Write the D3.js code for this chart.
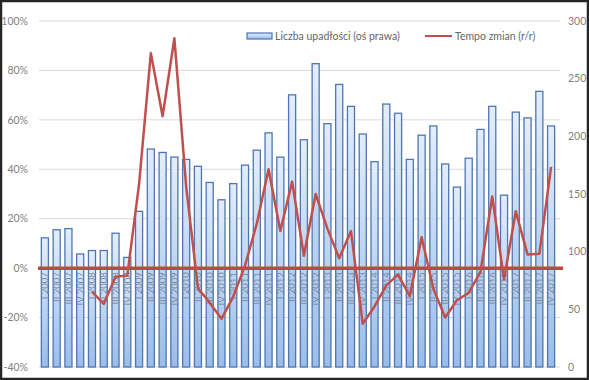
<!DOCTYPE html>
<html>
<head>
<meta charset="utf-8">
<script src="https://cdn.jsdelivr.net/npm/d3@7"></script>
<style>
  body { margin: 0; background: #fff; }
  text { font-family: Lato, "Open Sans", sans-serif; }
</style>
</head>
<body>
<div id="chart"></div>
<script>
// Quarters and years used for the category labels
const quarters = ['I', 'II', 'III', 'IV'];
const years = [2007, 2008, 2009, 2010, 2011, 2012, 2013, 2014, 2015, 2016, 2017];
const categories = years.flatMap(y => quarters.map(q => `${q} ${y}`));

// Liczba upadłości (right axis)
const bankruptcies = [
    112, 119, 120, 98,
    101, 101, 116, 95,
    135, 189, 186, 182,
    180, 174, 160, 145,
    159, 175, 188, 203,
    182, 236, 197, 263,
    211, 245, 226, 202,
    178, 228, 220, 180,
    201, 209, 176, 156,
    181, 206, 226, 149,
    221, 216, 239, 209
];

// Tempo zmian r/r in % (left axis), no value for 2007
const growth = [
    null, null, null, null,
    -9.5, -14.5, -3.5, -3,
    34, 87, 61.5, 93,
    33, -8, -14, -20.5,
    -11.5, 1, 18, 40,
    15, 35, 5, 30,
    16, 4, 15, -22.5,
    -15.5, -7, -2.6, -11.3,
    12.5, -8.3, -20, -13,
    -10, -1.5, 29, -4.6,
    23, 5.5, 5.8, 41
];

const leftTicks = [-40, -20, 0, 20, 40, 60, 80, 100];
const rightTicks = [0, 50, 100, 150, 200, 250, 300];

const width = 589, height = 380;
const plot = { left: 39, right: 557, top: 21, bottom: 367 };

const svg = d3.select('#chart').append('svg')
    .attr('width', width)
    .attr('height', height);

const defs = svg.append('defs');
const grad = defs.append('linearGradient')
    .attr('id', 'barGrad')
    .attr('x1', 0).attr('y1', 0).attr('x2', 0).attr('y2', 1);
grad.append('stop').attr('offset', '0%').attr('stop-color', '#e3eefb');
grad.append('stop').attr('offset', '100%').attr('stop-color', '#99bdea');

// frame
svg.append('rect')
    .attr('x', 1).attr('y', 1)
    .attr('width', width - 2).attr('height', height - 2)
    .attr('fill', '#fff')
    .attr('stroke', '#262626')
    .attr('stroke-width', 2.5);

const x = d3.scaleBand()
    .domain(categories)
    .range([plot.left, plot.right])
    .paddingInner(0.4)
    .paddingOuter(0.2);

const yLeft = d3.scaleLinear().domain([-40, 100]).range([plot.bottom, plot.top]);
const yRight = d3.scaleLinear().domain([0, 300]).range([plot.bottom, plot.top]);

// gridlines (left axis)
svg.append('g')
    .selectAll('line')
    .data(leftTicks)
    .enter()
    .append('line')
    .attr('x1', plot.left)
    .attr('x2', 560)
    .attr('y1', d => yLeft(d))
    .attr('y2', d => yLeft(d))
    .attr('stroke', '#d9d9d9')
    .attr('stroke-width', 1);

// left axis labels
svg.append('g')
    .selectAll('text')
    .data(leftTicks)
    .enter()
    .append('text')
    .attr('x', 28)
    .attr('y', d => yLeft(d))
    .attr('dy', '0.35em')
    .attr('text-anchor', 'end')
    .attr('font-size', 10.5)
    .attr('fill', '#7f7f7f')
    .text(d => `${d}%`);

// right axis labels
svg.append('g')
    .selectAll('text')
    .data(rightTicks)
    .enter()
    .append('text')
    .attr('x', 568)
    .attr('y', d => yRight(d))
    .attr('dy', '0.35em')
    .attr('text-anchor', 'start')
    .attr('font-size', 10.5)
    .attr('fill', '#7f7f7f')
    .text(d => d);

// bars
svg.append('g')
    .selectAll('rect')
    .data(bankruptcies)
    .enter()
    .append('rect')
    .attr('x', (d, i) => x(categories[i]))
    .attr('y', d => yRight(d))
    .attr('width', x.bandwidth())
    .attr('height', d => yRight(0) - yRight(d))
    .attr('fill', 'url(#barGrad)')
    .attr('stroke', '#4f76b3')
    .attr('stroke-width', 1.3);

// category labels, rotated, hanging under the 0% line
svg.append('g')
    .selectAll('text')
    .data(categories)
    .enter()
    .append('text')
    .attr('transform', d => `translate(${x(d) + x.bandwidth() / 2},${yLeft(0) + 4}) rotate(-90)`)
    .attr('dy', '0.35em')
    .attr('text-anchor', 'end')
    .attr('font-size', 9.5)
    .attr('fill', '#7d8aa0')
    .text(d => d);

// zero line
svg.append('line')
    .attr('x1', plot.left - 1)
    .attr('x2', 563)
    .attr('y1', yLeft(0))
    .attr('y2', yLeft(0))
    .attr('stroke', '#c0483e')
    .attr('stroke-width', 3.5);

// growth line
const line = d3.line()
    .defined(d => d != null)
    .x((d, i) => x(categories[i]) + x.bandwidth() / 2)
    .y(d => yLeft(d));

svg.append('path')
    .datum(growth)
    .attr('d', line)
    .attr('fill', 'none')
    .attr('stroke', '#c0504d')
    .attr('stroke-width', 2.5)
    .attr('stroke-linejoin', 'round');

// legend
const legend = svg.append('g');
legend.append('rect')
    .attr('x', 247).attr('y', 33)
    .attr('width', 25).attr('height', 6)
    .attr('fill', 'url(#barGrad)')
    .attr('stroke', '#4f76b3')
    .attr('stroke-width', 1.2);
legend.append('text')
    .attr('x', 275).attr('y', 36)
    .attr('dy', '0.35em')
    .attr('font-size', 10.5)
    .attr('fill', '#666')
    .text('Liczba upadłości (oś prawa)');
legend.append('line')
    .attr('x1', 425).attr('x2', 452)
    .attr('y1', 36).attr('y2', 36)
    .attr('stroke', '#c0504d')
    .attr('stroke-width', 2);
legend.append('text')
    .attr('x', 455).attr('y', 36)
    .attr('dy', '0.35em')
    .attr('font-size', 10.5)
    .attr('fill', '#666')
    .text('Tempo zmian (r/r)');
</script>
</body>
</html>
